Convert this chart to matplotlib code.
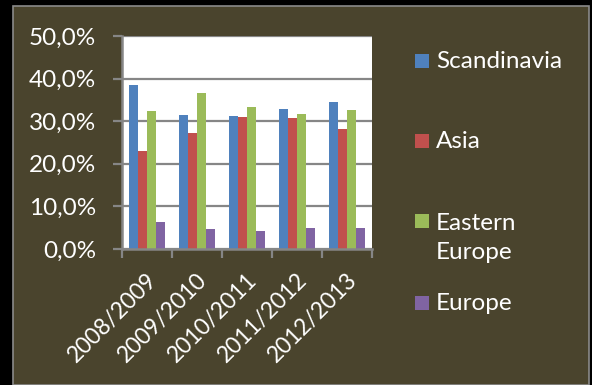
import numpy as np
import matplotlib.pyplot as plt
from matplotlib.patches import Rectangle
from matplotlib.ticker import FuncFormatter, MultipleLocator
from matplotlib.transforms import ScaledTranslation

seasons = ['2008/2009', '2009/2010', '2010/2011', '2011/2012', '2012/2013']
regions = ['Scandinavia', 'Asia', 'Eastern\nEurope', 'Europe']
scandinavia = [38.5, 31.5, 31.2, 32.9, 34.5]
asia = [23.0, 27.2, 31.0, 30.8, 28.2]
eastern_europe = [32.4, 36.6, 33.3, 31.7, 32.6]
europe = [6.3, 4.7, 4.2, 4.9, 4.9]
colors = ['#4f81bd', '#c0504d', '#9bbb59', '#8064a2']

W, H = 592, 385
bg = '#4a442d'
grey = '#868686'
fs = 17.5
plt.rcParams['font.family'] = ['Lato', 'DejaVu Sans']

fig = plt.figure(figsize=(W / 100, H / 100), dpi=100, facecolor='black')
fig.patches.append(Rectangle((13 / W, 0), (589 - 13) / W, (H - 6) / H,
                             transform=fig.transFigure, facecolor=bg,
                             edgecolor='#8a8a8a', lw=1.2, zorder=-5))

ax = fig.add_axes([122 / W, 136 / H, 250 / W, 213 / H])
ax.set_facecolor('white')
ax.set_zorder(2)

series = [scandinavia, asia, eastern_europe, europe]
x = np.arange(len(seasons))
bw = 0.182
for i, (vals, c) in enumerate(zip(series, colors)):
    ax.bar(x + (i - 1.5) * bw, vals, width=bw, color=c, zorder=3)

ax.set_xlim(-0.5, len(seasons) - 0.5)
ax.set_ylim(0, 50)
ax.yaxis.set_major_locator(MultipleLocator(10))
ax.yaxis.set_major_formatter(FuncFormatter(lambda v, p: f'{v:.1f}%'.replace('.', ',')))
ax.grid(axis='y', color=grey, lw=1.6, zorder=1)
for s in ['top', 'right']:
    ax.spines[s].set_visible(False)
for s in ['left', 'bottom']:
    ax.spines[s].set_color(grey)
    ax.spines[s].set_linewidth(1.8)
    ax.spines[s].set_zorder(4)

ax.tick_params(axis='y', colors=grey, length=6.5, width=1.6, pad=12,
               labelcolor='white', labelsize=fs)
ax.set_xticks(x)
ax.set_xticks(np.arange(len(seasons) + 1) - 0.5, minor=True)
ax.tick_params(axis='x', which='major', length=0, pad=20, labelcolor='white', labelsize=16.5)
ax.tick_params(axis='x', which='minor', colors=grey, length=6.5, width=1.6)
ax.set_xticklabels(seasons, rotation=45, ha='right', va='center', rotation_mode='anchor')
shift = ScaledTranslation(7 / 100, 0, fig.dpi_scale_trans)
for lab in ax.get_xticklabels():
    lab.set_transform(lab.get_transform() + shift)

# legend drawn by hand to keep the first-line alignment of the wrapped entry
ys = [61, 141, 238, 303]
for name, c, yy in zip(regions, colors, ys):
    hy = 221 if '\n' in name else yy
    fig.patches.append(Rectangle((415 / W, 1 - (hy + 7) / H), 14 / W, 14 / H,
                                 transform=fig.transFigure, facecolor=c, zorder=3))
    fig.text(436 / W, 1 - yy / H, name, color='white', fontsize=fs,
             va='center', ha='left', linespacing=1.45)

fig.savefig('out.png', dpi=100, facecolor=fig.get_facecolor())
